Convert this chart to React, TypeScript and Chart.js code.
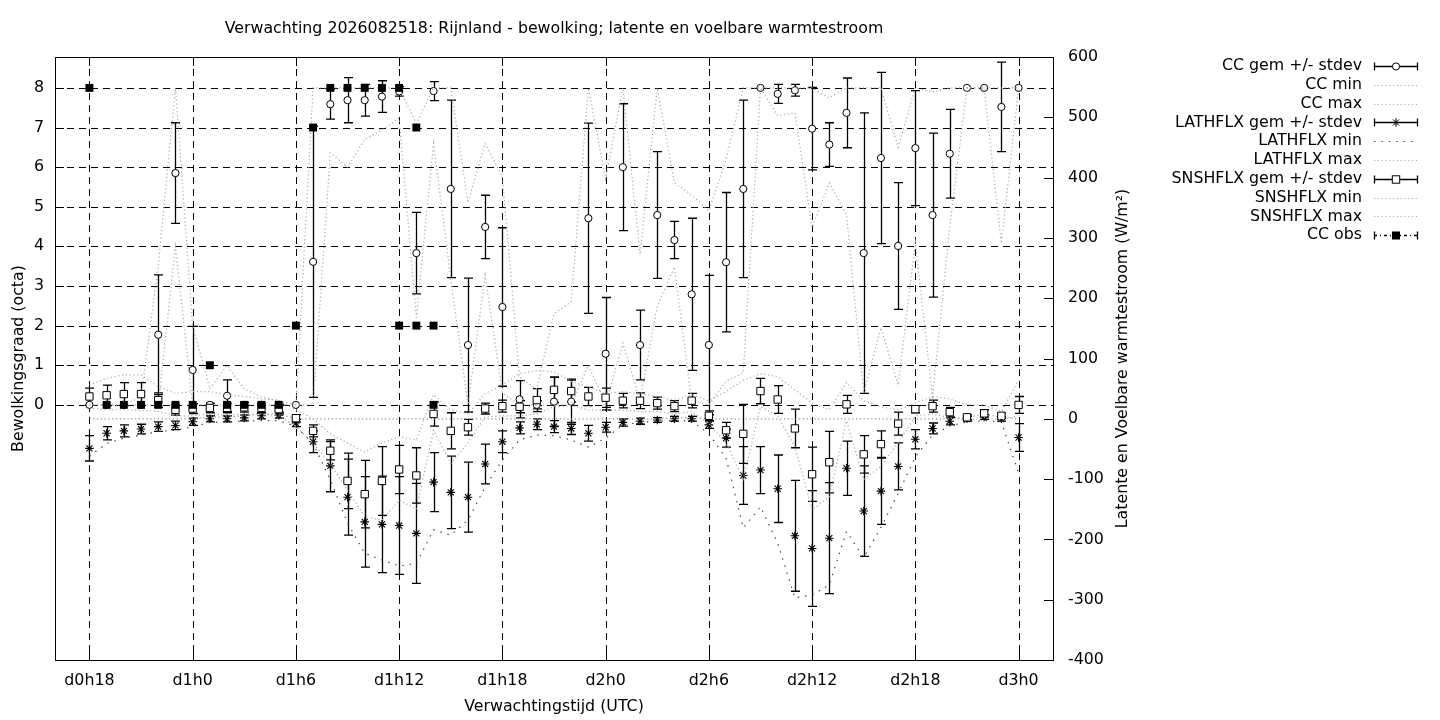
import React, { useEffect, useRef } from "react";
import { Chart, registerables } from "chart.js";

Chart.register(...registerables);

// ---------- texts ----------
const TITLE = "Verwachting 2026082518: Rijnland - bewolking; latente en voelbare warmtestroom";
const X_TITLE = "Verwachtingstijd (UTC)";
const Y_TITLE = "Bewolkingsgraad (octa)";
const Y2_TITLE = "Latente en Voelbare warmtestroom (W/m²)";

// ---------- axes ----------
const X_TICKS = [18, 24, 30, 36, 42, 48, 54, 60, 66, 72];
const X_TICK_LABELS = ["d0h18", "d1h0", "d1h6", "d1h12", "d1h18", "d2h0", "d2h6", "d2h12", "d2h18", "d3h0"];
const Y_TICKS = [0, 1, 2, 3, 4, 5, 6, 7, 8];
const Y2_TICKS = [-400, -300, -200, -100, 0, 100, 200, 300, 400, 500, 600];

// ---------- data (hours since d0h0) ----------
const HOURS = [
  18, 19, 20, 21, 22, 23,
  24, 25, 26, 27, 28, 29,
  30, 31, 32, 33, 34, 35,
  36, 37, 38, 39, 40, 41,
  42, 43, 44, 45, 46, 47,
  48, 49, 50, 51, 52, 53,
  54, 55, 56, 57, 58, 59,
  60, 61, 62, 63, 64, 65,
  66, 67, 68, 69, 70, 71,
  72,
];

const CC_MEAN = [
  0, 0, 0, 0, 1.77, 5.85,
  0.88, 0, 0.23, 0, 0, 0,
  0, 3.61, 7.59, 7.69, 7.69, 7.78,
  7.91, 3.83, 7.92, 5.45, 1.51, 4.49,
  2.47, 0.14, 0, 0.08, 0.08, 4.71,
  1.29, 6.0, 1.51, 4.79, 4.16, 2.79,
  1.51, 3.6, 5.45, 8, 7.85, 7.94,
  6.97, 6.57, 7.37, 3.83, 6.23, 4.01,
  6.48, 4.79, 6.34, 8, 8, 7.52,
  8,
];
const CC_SD = [
  0, 0, 0, 0, 1.51, 1.27,
  1.1, 0, 0.4, 0, 0, 0,
  0, 3.42, 0.38, 0.57, 0.4, 0.4,
  0.12, 1.03, 0.24, 2.24, 1.69, 0.8,
  2.0, 0.47, 0.1, 0.62, 0.57, 2.4,
  1.42, 1.6, 0.88, 1.6, 0.47, 1.92,
  1.76, 1.76, 2.24, 0, 0.24, 0.15,
  1.04, 0.55, 0.88, 3.54, 2.16, 1.6,
  1.45, 2.07, 1.12, 0, 0, 1.13,
  0,
];
const CC_MIN = [
  0, 0, 0, 0, 0, 4.0,
  0, 0, 0, 0, 0, 0,
  0, 0, 6.36, 6.0, 6.7, 6.94,
  7.24, 2.2, 6.6, 3.2, 0, 3.28,
  0.3, 0, 0, 0, 0, 1.0,
  0, 1.56, 0.1, 2.5, 3.48, 0.1,
  0, 0.6, 0.8, 8, 7.3, 7.37,
  4.47, 5.6, 4.8, 0.29, 1.95, 0.5,
  4.1, 0.2, 4.5, 8, 8, 4.08,
  8,
];
const CC_MAX = [
  0, 0, 0, 0.2, 3.5, 8,
  2.0, 0.4, 1.0, 0.4, 0.2, 0.1,
  0, 8, 8, 8, 8, 8,
  8, 7.1, 8, 8, 5.1, 6.6,
  5.75, 0.7, 0.4, 2.3, 2.6, 8,
  5.7, 8, 3.8, 8, 5.6, 5.3,
  4.9, 6.2, 8, 8, 8, 8,
  8, 7.75, 8, 8, 8, 6.5,
  8, 7.9, 8, 8, 8, 8,
  8,
];

const LATH_MEAN = [
  -49, -24, -20, -17, -13, -11,
  -5, 0, 0, 1.5, 5, 6,
  -7, -38, -78, -130, -171, -175,
  -177, -190, -105, -122, -130, -75,
  -38, -15, -9, -13, -16, -24,
  -14, -6, -4, -2, 0, 0,
  -10, -32, -94, -85, -116, -194,
  -215, -198, -82, -153, -120, -79,
  -34, -16, -4, 0, 3, 0,
  -31,
];
const LATH_SD = [
  21, 11, 10, 8, 8, 7,
  6, 5, 5, 5, 5, 5,
  6, 18, 43, 63, 75, 80,
  81, 83, 49, 60, 58, 33,
  18, 10, 9, 10, 10, 13,
  8, 6, 5, 4, 4, 4,
  6, 15, 48, 39, 56, 92,
  96, 92, 45, 75, 55, 39,
  16, 9, 6, 4, 4, 4,
  23,
];
const LATH_MIN = [
  -62, -41, -32, -27, -21, -19,
  -13, -6, -5, -4, -3, -3,
  -13, -41, -101, -173, -223, -234,
  -244, -240, -184, -193, -168, -113,
  -68, -35, -27, -28, -35, -47,
  -32, -10, -6, -4, -3, -3,
  -25, -65, -181, -146, -206, -297,
  -292, -275, -187, -230, -180, -124,
  -63, -27, -12, -5, -3, -5,
  -90,
];
const LATH_MAX = [
  0, 0, 0, 0, 0, 0,
  0, 3, 3, 5, 8, 8,
  0, 0, 0, 0, 0, 0,
  0, 0, 0, 0, 0, 0,
  0, 0, 0, 0, 0, 0,
  0, 0, 0, 0, 2, 2,
  0, 0, 0, 0, 0, 0,
  0, 0, 0, 0, 0, 0,
  0, 0, 0, 3, 7, 3,
  0,
];

const SNSH_MEAN = [
  37, 39, 41, 41, 31, 15,
  17, 18, 18, 19, 18, 16,
  1, -20, -53, -103, -125, -103,
  -84, -94, 8, -20, -14, 17,
  21, 20, 31, 48, 46, 37,
  35, 30, 30, 26, 21, 30,
  5, -19, -25, 46, 32, -16,
  -92, -72, 24, -59, -42, -8,
  16, 21, 11, 2.5, 9, 5,
  23,
];
const SNSH_SD = [
  14, 17, 19, 19, 12, 9,
  8, 8, 8, 8, 8, 8,
  6, 10, 15, 46, 56, 57,
  40, 46, 20, 30, 13, 9,
  10, 10, 19, 21, 18, 15,
  16, 12, 13, 10, 9, 12,
  8, 13, 49, 21, 23, 32,
  45, 51, 15, 31, 22, 19,
  6, 10, 8, 4, 6, 4,
  14,
];
const SNSH_MIN = [
  18, 15, 15, 14, 12, 5,
  5, 8, 6, 8, 8, 5,
  -13, -40, -75, -118, -162, -168,
  -135, -150, -19, -74, -40, 3,
  5, 5, 8, 20, 22, 15,
  14, 14, 12, 12, 8, 12,
  -8, -40, -100, 20, 5, -46,
  -151, -129, -3, -101, -79, -40,
  5, 8, 2, -3, 2, -2,
  5,
];
const SNSH_MAX = [
  56, 67, 73, 73, 53, 42,
  45, 45, 40, 37, 33, 31,
  15, 0, -25, -40, -55, -40,
  -30, -35, 40, 15, 8, 42,
  56, 75, 80, 78, 62, 53,
  42, 45, 42, 37, 31, 40,
  30, 45, 64, 75, 70, 48,
  26, 15, 60, 30, 20, 15,
  26, 37, 33, 23, 23, 12,
  64,
];

const OBS_HOURS = [18, 19, 20, 21, 22, 23, 24, 25, 26, 27, 28, 29, 30, 31, 32, 33, 34, 35, 36, 36, 37, 37, 38, 38];
const OBS_VALUES = [8, 0, 0, 0, 0, 0, 0, 1, 0, 0, 0, 0, 2, 7, 8, 8, 8, 8, 8, 2, 7, 2, 2, 0];

// ---------- styling ----------
const FONT_FAMILY = "'DejaVu Sans', 'Liberation Sans', sans-serif";
const FS = 15.8;
const GRAY = "#a8a8a8";
const GRAY_DASH = [1.2, 2.6];
const ZERO_GRAY = "#8c8c8c";
const LMIN_COLOR = "#404040";
const LMIN_DASH = [1.4, 6];
const BAR_W = 1.3;

const pts = (xs: number[], ys: number[]) => xs.map((x, i) => ({ x, y: ys[i] }));

function drawMarker(ctx: CanvasRenderingContext2D, kind: string, x: number, y: number) {
  ctx.save();
  ctx.strokeStyle = "#000";
  ctx.lineWidth = 1;
  if (kind === "circle") {
    ctx.fillStyle = "#fff";
    ctx.beginPath();
    ctx.arc(x, y, 3.6, 0, Math.PI * 2);
    ctx.fill();
    ctx.stroke();
  } else if (kind === "square") {
    ctx.fillStyle = "#fff";
    ctx.fillRect(x - 3.7, y - 3.7, 7.4, 7.4);
    ctx.strokeRect(x - 3.7, y - 3.7, 7.4, 7.4);
  } else if (kind === "filled") {
    ctx.fillStyle = "#000";
    ctx.fillRect(x - 4, y - 4, 8, 8);
  } else if (kind === "star") {
    const r = 4.3;
    const d = r * Math.SQRT1_2;
    ctx.beginPath();
    ctx.moveTo(x - r, y); ctx.lineTo(x + r, y);
    ctx.moveTo(x, y - r); ctx.lineTo(x, y + r);
    ctx.moveTo(x - d, y - d); ctx.lineTo(x + d, y + d);
    ctx.moveTo(x - d, y + d); ctx.lineTo(x + d, y - d);
    ctx.stroke();
  }
  ctx.restore();
}

const LEGEND = [
  { label: "CC gem +/- stdev", kind: "err", marker: "circle" },
  { label: "CC min", kind: "line", color: GRAY, dash: GRAY_DASH },
  { label: "CC max", kind: "line", color: GRAY, dash: GRAY_DASH },
  { label: "LATHFLX gem +/- stdev", kind: "err", marker: "star" },
  { label: "LATHFLX min", kind: "line", color: LMIN_COLOR, dash: LMIN_DASH },
  { label: "LATHFLX max", kind: "line", color: GRAY, dash: GRAY_DASH },
  { label: "SNSHFLX gem +/- stdev", kind: "err", marker: "square" },
  { label: "SNSHFLX min", kind: "line", color: GRAY, dash: GRAY_DASH },
  { label: "SNSHFLX max", kind: "line", color: GRAY, dash: GRAY_DASH },
  { label: "CC obs", kind: "obs", marker: "filled" },
];

const framePlugin = {
  id: "gnuplotFrame",
  beforeDatasetsDraw(chart: any) {
    const { ctx, chartArea: a, scales } = chart;
    ctx.save();
    // dashed grid
    ctx.strokeStyle = "#000";
    ctx.lineWidth = 1;
    ctx.setLineDash([7, 5]);
    X_TICKS.forEach((v) => {
      const px = Math.round(scales.x.getPixelForValue(v)) + 0.5;
      ctx.beginPath();
      ctx.moveTo(px, a.top);
      ctx.lineTo(px, a.bottom);
      ctx.stroke();
    });
    Y_TICKS.forEach((v) => {
      const py = Math.round(scales.y.getPixelForValue(v)) + 0.5;
      ctx.beginPath();
      ctx.moveTo(a.left, py);
      ctx.lineTo(a.right, py);
      ctx.stroke();
    });
    ctx.setLineDash([]);
    // error bars
    ctx.beginPath();
    ctx.rect(a.left, a.top, a.right - a.left, a.bottom - a.top);
    ctx.clip();
    ctx.lineWidth = BAR_W;
    chart.data.datasets.forEach((ds: any) => {
      const errs: number[] | undefined = ds.errs;
      if (!errs) return;
      const ys = scales[ds.yAxisID];
      ds.data.forEach((p: any, i: number) => {
        const e = errs[i];
        if (!e) return;
        const px = Math.round(scales.x.getPixelForValue(p.x)) + 0.5;
        const y1 = ys.getPixelForValue(p.y - e);
        const y2 = ys.getPixelForValue(p.y + e);
        ctx.beginPath();
        ctx.moveTo(px, y1); ctx.lineTo(px, y2);
        ctx.moveTo(px - 4.5, y1); ctx.lineTo(px + 4.5, y1);
        ctx.moveTo(px - 4.5, y2); ctx.lineTo(px + 4.5, y2);
        ctx.stroke();
      });
    });
    ctx.restore();
  },
  afterDatasetsDraw(chart: any) {
    const { ctx, chartArea: a, scales } = chart;
    ctx.save();
    ctx.strokeStyle = "#000";
    ctx.lineWidth = 1;
    ctx.setLineDash([]);
    // tick marks (inward)
    ctx.beginPath();
    X_TICKS.forEach((v) => {
      const px = Math.round(scales.x.getPixelForValue(v)) + 0.5;
      ctx.moveTo(px, a.bottom); ctx.lineTo(px, a.bottom - 9);
      ctx.moveTo(px, a.top); ctx.lineTo(px, a.top + 9);
    });
    Y_TICKS.forEach((v) => {
      const py = Math.round(scales.y.getPixelForValue(v)) + 0.5;
      ctx.moveTo(a.left, py); ctx.lineTo(a.left + 9, py);
    });
    Y2_TICKS.forEach((v) => {
      const py = Math.round(scales.y2.getPixelForValue(v)) + 0.5;
      ctx.moveTo(a.right, py); ctx.lineTo(a.right - 9, py);
    });
    ctx.stroke();
    // border
    ctx.strokeRect(Math.round(a.left) + 0.5, Math.round(a.top) + 0.5, Math.round(a.right - a.left), Math.round(a.bottom - a.top));

    // texts
    ctx.fillStyle = "#000";
    ctx.font = `${FS}px ${FONT_FAMILY}`;
    ctx.textBaseline = "middle";
    ctx.textAlign = "center";
    const cx = (a.left + a.right) / 2;
    const cy = (a.top + a.bottom) / 2;
    ctx.fillText(TITLE, cx, 29);
    ctx.fillText(X_TITLE, cx, 707);
    ctx.save();
    ctx.translate(18.5, cy);
    ctx.rotate(-Math.PI / 2);
    ctx.fillText(Y_TITLE, 0, 0);
    ctx.restore();
    ctx.save();
    ctx.translate(1123, cy);
    ctx.rotate(-Math.PI / 2);
    ctx.fillText(Y2_TITLE, 0, 0);
    ctx.restore();

    // legend
    const tx = 1362;
    const sx0 = 1374;
    const sx1 = 1418;
    LEGEND.forEach((item: any, i: number) => {
      const y = 66 + i * 18.8;
      ctx.textAlign = "right";
      ctx.fillStyle = "#000";
      ctx.fillText(item.label, tx, y);
      const py = Math.round(y) + 0.5;
      ctx.save();
      if (item.kind === "line") {
        ctx.strokeStyle = item.color;
        ctx.lineWidth = 1.2;
        ctx.setLineDash(item.dash);
        ctx.beginPath();
        ctx.moveTo(sx0, py); ctx.lineTo(sx1, py);
        ctx.stroke();
      } else {
        ctx.strokeStyle = "#000";
        ctx.lineWidth = BAR_W;
        if (item.kind === "obs") ctx.setLineDash([3, 3, 1, 3]);
        ctx.beginPath();
        ctx.moveTo(sx0, py); ctx.lineTo(sx1, py);
        ctx.stroke();
        ctx.setLineDash([]);
        ctx.beginPath();
        ctx.moveTo(sx0 + 0.5, py - 4); ctx.lineTo(sx0 + 0.5, py + 4);
        ctx.moveTo(sx1 - 0.5, py - 4); ctx.lineTo(sx1 - 0.5, py + 4);
        ctx.stroke();
        drawMarker(ctx, item.marker, (sx0 + sx1) / 2, py);
      }
      ctx.restore();
    });
    ctx.restore();
  },
};

export default function App() {
  const canvasRef = useRef<HTMLCanvasElement | null>(null);

  useEffect(() => {
    if (!canvasRef.current) return;
    const font = { family: FONT_FAMILY, size: FS };
    const lineDs = (label: string, ys: number[], axis: string, color: string, dash: number[], order: number) => ({
      label,
      data: pts(HOURS, ys),
      yAxisID: axis,
      borderColor: color,
      borderWidth: 1.2,
      borderDash: dash,
      pointRadius: 0,
      fill: false,
      tension: 0,
      order,
    });
    const chart = new Chart(canvasRef.current, {
      type: "line",
      data: {
        datasets: [
          {
            label: "CC gem +/- stdev",
            data: pts(HOURS, CC_MEAN),
            errs: CC_SD,
            yAxisID: "y",
            showLine: false,
            pointStyle: "circle",
            pointRadius: 3.6,
            pointBackgroundColor: "#fff",
            pointBorderColor: "#000",
            pointBorderWidth: 1,
            order: 10,
          } as any,
          lineDs("CC min", CC_MIN, "y", GRAY, GRAY_DASH, 9),
          lineDs("CC max", CC_MAX, "y", GRAY, GRAY_DASH, 8),
          {
            label: "LATHFLX gem +/- stdev",
            data: pts(HOURS, LATH_MEAN),
            errs: LATH_SD,
            yAxisID: "y2",
            showLine: false,
            pointStyle: "star",
            pointRadius: 4.3,
            pointBackgroundColor: "#000",
            pointBorderColor: "#000",
            pointBorderWidth: 1.1,
            order: 7,
          } as any,
          lineDs("LATHFLX min", LATH_MIN, "y2", LMIN_COLOR, LMIN_DASH, 6),
          lineDs("LATHFLX max", LATH_MAX, "y2", ZERO_GRAY, GRAY_DASH, 5),
          {
            label: "SNSHFLX gem +/- stdev",
            data: pts(HOURS, SNSH_MEAN),
            errs: SNSH_SD,
            yAxisID: "y2",
            showLine: false,
            pointStyle: "rect",
            pointRadius: 5.2,
            pointBackgroundColor: "#fff",
            pointBorderColor: "#000",
            pointBorderWidth: 1,
            order: 4,
          } as any,
          lineDs("SNSHFLX min", SNSH_MIN, "y2", GRAY, GRAY_DASH, 3),
          lineDs("SNSHFLX max", SNSH_MAX, "y2", GRAY, GRAY_DASH, 2),
          {
            label: "CC obs",
            data: pts(OBS_HOURS, OBS_VALUES),
            yAxisID: "y",
            showLine: false,
            pointStyle: "rect",
            pointRadius: 5.6,
            pointBackgroundColor: "#000",
            pointBorderColor: "#000",
            pointBorderWidth: 0,
            order: 1,
          } as any,
        ],
      },
      options: {
        animation: false,
        responsive: false,
        maintainAspectRatio: false,
        layout: { padding: { left: 0, top: 57, right: 307, bottom: 0 } },
        plugins: {
          legend: { display: false },
          title: { display: false },
          tooltip: { enabled: false },
        },
        scales: {
          x: {
            type: "linear",
            position: "bottom",
            min: 16,
            max: 74,
            grid: { display: false, drawTicks: false },
            border: { display: false },
            afterBuildTicks: (scale: any) => {
              scale.ticks = X_TICKS.map((v) => ({ value: v }));
            },
            afterFit: (scale: any) => {
              scale.height = 60;
            },
            ticks: {
              autoSkip: false,
              maxRotation: 0,
              padding: 11,
              color: "#000",
              font,
              callback: (_v: any, i: number) => X_TICK_LABELS[i],
            },
          },
          y: {
            type: "linear",
            position: "left",
            min: -6.44,
            max: 8.78,
            grid: { display: false, drawTicks: false },
            border: { display: false },
            afterBuildTicks: (scale: any) => {
              scale.ticks = Y_TICKS.map((v) => ({ value: v }));
            },
            afterFit: (scale: any) => {
              scale.width = 55;
            },
            ticks: { padding: 11, color: "#000", font, callback: (v: any) => String(v) },
          },
          y2: {
            type: "linear",
            position: "right",
            min: -400,
            max: 600,
            grid: { display: false, drawTicks: false },
            border: { display: false },
            afterBuildTicks: (scale: any) => {
              scale.ticks = Y2_TICKS.map((v) => ({ value: v }));
            },
            afterFit: (scale: any) => {
              scale.width = 80;
            },
            ticks: { padding: 15, color: "#000", font, callback: (v: any) => String(v) },
          },
        },
      } as any,
      plugins: [framePlugin],
    });
    return () => chart.destroy();
  }, []);

  return (
    <div style={{ position: "fixed", left: 0, top: 0, width: 1440, height: 720, background: "#fff" }}>
      <canvas ref={canvasRef} width={1440} height={720} style={{ width: 1440, height: 720, display: "block" }} />
    </div>
  );
}
